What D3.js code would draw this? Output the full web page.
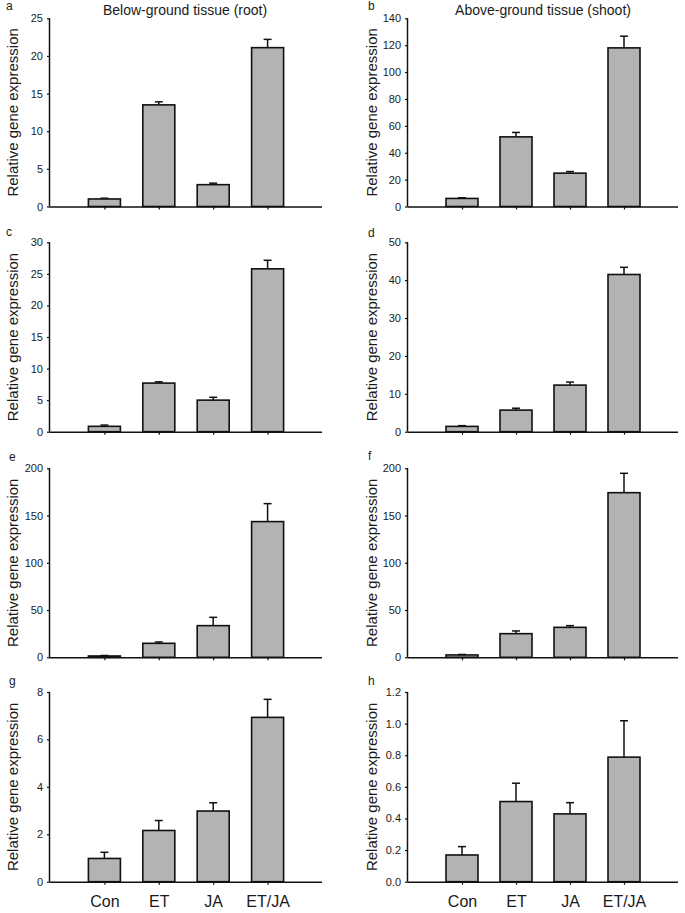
<!DOCTYPE html>
<html><head><meta charset="utf-8">
<script src="https://cdn.jsdelivr.net/npm/d3@7"></script>
<style>
body{margin:0;background:#fff;}
svg{display:block;font-family:"Liberation Sans",Arial,sans-serif;}
</style></head>
<body><svg id="c" width="685" height="913"></svg>
<script>
const categories = ["Con","ET","JA","ET/JA"];
const panelLetters = ["a","b","c","d","e","f","g","h"];
const columnTitles = ["Below-ground tissue (root)","Above-ground tissue (shoot)"];
const yLabel = "Relative gene expression";

const valuesA = [1.0, 13.5, 2.9, 21.1];
const errorsA = [0.1, 0.4, 0.2, 1.1];
const valuesB = [6.0, 51.8, 24.8, 118.0];
const errorsB = [0.5, 3.3, 1.2, 8.7];
const valuesC = [0.85, 7.7, 5.0, 25.8];
const errorsC = [0.2, 0.2, 0.45, 1.35];
const valuesD = [1.4, 5.7, 12.3, 41.5];
const errorsD = [0.2, 0.5, 0.8, 1.9];
const valuesE = [1.4, 14.8, 33.5, 143.6];
const errorsE = [0.5, 1.4, 8.8, 19.0];
const valuesF = [2.5, 25.0, 31.7, 174.2];
const errorsF = [0.5, 2.9, 1.8, 20.5];
const valuesG = [0.98, 2.16, 2.98, 6.93];
const errorsG = [0.26, 0.42, 0.35, 0.76];
const valuesH = [0.169, 0.507, 0.429, 0.788];
const errorsH = [0.053, 0.116, 0.071, 0.23];

const yMaxes = [25, 140, 30, 50, 200, 200, 8, 1.2];
const yTickSteps = [5, 20, 5, 10, 50, 50, 2, 0.2];
const yTickDecimals = [0, 0, 0, 0, 0, 0, 0, 1];

const allValues = [valuesA, valuesB, valuesC, valuesD, valuesE, valuesF, valuesG, valuesH];
const allErrors = [errorsA, errorsB, errorsC, errorsD, errorsE, errorsF, errorsG, errorsH];

// layout
const colX = [[50, 322], [408, 678]];
const rowY = [[18.3, 206.5], [242.3, 431.7], [468.3, 657.3], [692, 881.7]];
const letterPos = [[6, 10], [368, 10], [6, 236], [368, 237], [9, 461], [368, 460], [9, 685], [368, 685]];

const svg = d3.select("#c");
const textCol = "#1a1a1a";

allValues.forEach((vals, i) => {
  const col = i % 2, row = Math.floor(i / 2);
  const [x0, x1] = colX[col];
  const [yTop, yBot] = rowY[row];
  const g = svg.append("g");

  const x = d3.scalePoint().domain(categories).range([x0, x1]).padding(1);
  const y = d3.scaleLinear().domain([0, yMaxes[i]]).range([yBot, yTop]);
  const bw = 32;
  const errs = allErrors[i];

  // bars
  g.selectAll("rect").data(vals).join("rect")
    .attr("x", (d, j) => x(categories[j]) - bw / 2)
    .attr("y", d => y(d))
    .attr("width", bw)
    .attr("height", d => y(0) - y(d))
    .attr("fill", "#b3b3b3")
    .attr("stroke", "#111")
    .attr("stroke-width", 1.6);

  // error bars (upper only)
  vals.forEach((v, j) => {
    const cx = x(categories[j]);
    g.append("line").attr("x1", cx).attr("x2", cx)
      .attr("y1", y(v)).attr("y2", y(v + errs[j]))
      .attr("stroke", "#111").attr("stroke-width", 1.5);
    g.append("line").attr("x1", cx - 4).attr("x2", cx + 4)
      .attr("y1", y(v + errs[j])).attr("y2", y(v + errs[j]))
      .attr("stroke", "#111").attr("stroke-width", 1.5);
  });

  // y axis
  const ticks = d3.range(0, yMaxes[i] + yTickSteps[i] / 2, yTickSteps[i]);
  const yAxis = d3.axisLeft(y).tickValues(ticks).tickSize(3).tickPadding(4)
    .tickFormat(d => d.toFixed(yTickDecimals[i]));
  const ya = g.append("g").attr("transform", `translate(${x0},0)`).call(yAxis);
  ya.select(".domain").attr("d", `M-0.5,${yTop}V${yBot}`).attr("stroke", "#111").attr("stroke-width", 1.5);
  ya.selectAll(".tick line").attr("stroke", "#111").attr("stroke-width", 1.2);
  ya.selectAll(".tick text").attr("font-size", 11).attr("fill", textCol).attr("font-family", null);

  // x axis
  const xAxis = d3.axisBottom(x).tickSize(3).tickFormat(row === 3 ? (d => d) : () => "").tickPadding(11);
  const xa = g.append("g").attr("transform", `translate(0,${yBot})`).call(xAxis);
  xa.select(".domain").attr("d", `M${x0},0.5H${x1}`).attr("stroke", "#111").attr("stroke-width", 1.5);
  xa.selectAll(".tick line").attr("stroke", "#111").attr("stroke-width", 1.2);
  xa.selectAll(".tick text").attr("font-size", 16).attr("fill", textCol).attr("font-family", null);

  // y label
  const lx = col === 0 ? 18 : 377;
  g.append("text")
    .attr("transform", `translate(${lx},${(yTop + yBot) / 2}) rotate(-90)`)
    .attr("text-anchor", "middle")
    .attr("font-size", 15)
    .attr("fill", textCol)
    .text(yLabel);

  // panel letter
  g.append("text").attr("x", letterPos[i][0]).attr("y", letterPos[i][1])
    .attr("font-size", 12).attr("fill", textCol).text(panelLetters[i]);
});

// column titles
svg.append("text").attr("x", 185).attr("y", 15).attr("text-anchor", "middle")
  .attr("font-size", 14).attr("fill", textCol).text(columnTitles[0]);
svg.append("text").attr("x", 543).attr("y", 15).attr("text-anchor", "middle")
  .attr("font-size", 14).attr("fill", textCol).text(columnTitles[1]);
</script>
</body></html>
